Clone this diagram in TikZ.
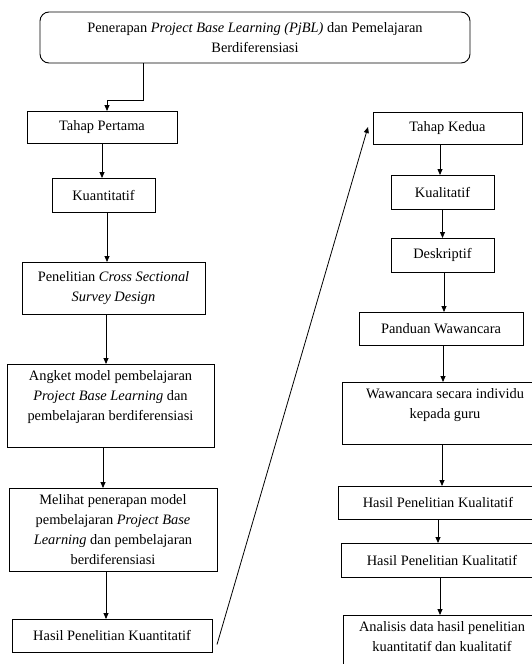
\documentclass[tikz,border=0pt]{standalone}
\usepackage{fontspec}
\setmainfont{Liberation Serif}
\usepackage{tikz}
\usetikzlibrary{arrows.meta, positioning, calc}

\begin{document}
\begin{tikzpicture}[
  x=1pt, y=1pt,
  box/.style = {draw, line width=0.9pt, outer sep=0pt, inner sep=2pt, align=center,
                font=\fontsize{14.4}{20}\selectfont},
  roundbox/.style = {box, rounded corners=9pt},
  arrow/.style = {line width=0.8pt, -{Triangle[width=5pt, length=6pt]}}
]
  \fill[white] (0,0) rectangle (531,-664);
  \useasboundingbox (0,0) rectangle (531,-664);

  % ======================================================
  % Judul (rounded block)
  % ======================================================
  \node[roundbox, minimum width=430pt, minimum height=51pt] (judul) at (255,-37.5) {
    Penerapan \textit{Project Base Learning (PjBL)} dan Pemelajaran\\
    Berdiferensiasi
  };

  % ======================================================
  % Tahap pertama (left column)
  % ======================================================
  \node[box, minimum width=150pt, minimum height=32pt] (pertama) at (102,-127) {Tahap Pertama};

  \node[box, minimum width=103pt, minimum height=34pt, below=35pt of pertama, xshift=1.5pt] (kuanti) {Kuantitatif};

  \node[box, minimum width=183pt, minimum height=52pt, below=50pt of kuanti, xshift=10pt] (survey) {
    Penelitian \textit{Cross Sectional}\\
    \textit{Survey Design}
  };

  \node[box, minimum width=207pt, minimum height=83pt, below=50pt of survey, xshift=-3pt] (angket) {
    Angket model pembelajaran\\
    \textit{Project Base Learning} dan\\
    pembelajaran berdiferensiasi\\
    ~
  };

  \node[box, minimum width=208pt, minimum height=83pt, below=41pt of angket, xshift=2.5pt] (melihat) {
    Melihat penerapan model\\
    pembelajaran \textit{Project Base}\\
    \textit{Learning} dan pembelajaran\\
    berdiferensiasi
  };

  \node[box, minimum width=200pt, minimum height=33pt, below=48pt of melihat, xshift=-1pt] (hasilkuanti) {Hasil Penelitian Kuantitatif};

  % ======================================================
  % Tahap kedua (right column)
  % ======================================================
  \node[box, minimum width=149pt, minimum height=32pt] (kedua) at (447.5,-128) {Tahap Kedua};

  \node[box, minimum width=103pt, minimum height=34pt, below=31pt of kedua, xshift=-5pt] (kuali) {Kualitatif};

  \node[box, minimum width=103pt, minimum height=34pt, below=29pt of kuali] (deskriptif) {Deskriptif};

  \node[box, minimum width=164pt, minimum height=33pt, below=40pt of deskriptif, xshift=-1.5pt] (panduan) {Panduan Wawancara};

  \node[box, minimum width=206pt, minimum height=62pt, below=37pt of panduan, xshift=4pt] (wawancara) {
    Wawancara secara individu\\
    kepada guru\\
    ~
  };

  \node[box, minimum width=200pt, minimum height=33pt, below=42pt of wawancara, xshift=-7pt] (hasilkuali) {Hasil Penelitian Kualitatif};

  \node[box, minimum width=202pt, minimum height=34pt, below=24pt of hasilkuali, xshift=4pt] (hasilkuali2) {Hasil Penelitian Kualitatif};

  \node[box, minimum width=198pt, minimum height=83pt, below=38pt of hasilkuali2] (analisis) {
    Analisis data hasil penelitian\\
    kuantitatif dan kualitatif\\
    ~\\
    ~
  };

  % judul -> tahap pertama
  \draw[arrow] ([xshift=-112pt]judul.south) -- ++(0,-37) -| ([xshift=5pt]pertama.north);

  % left column
  \draw[arrow] (pertama.south) -- (pertama.south |- kuanti.north);
  \draw[arrow] ([xshift=3.5pt]kuanti.south) -- ([xshift=3.5pt]kuanti.south |- survey.north);
  \draw[arrow] ([xshift=-7.5pt]survey.south) -- ([xshift=-7.5pt]survey.south |- angket.north);
  \draw[arrow] ([xshift=-7.5pt]angket.south) -- ([xshift=-7.5pt]angket.south |- melihat.north);
  \draw[arrow] ([xshift=-7pt]melihat.south) -- ([xshift=-7pt]melihat.south |- hasilkuanti.north);

  % hasil kuantitatif -> tahap kedua
  \draw[arrow] ([xshift=5pt, yshift=-9pt]hasilkuanti.east) -- ([xshift=-5pt, yshift=1pt]kedua.west);

  % right column
  \draw[arrow] ([xshift=-7.5pt]kedua.south) -- ([xshift=-7.5pt]kedua.south |- kuali.north);
  \draw[arrow] (kuali.south) -- (kuali.south |- deskriptif.north);
  \draw[arrow] ([xshift=1.5pt]deskriptif.south) -- ([xshift=1.5pt]deskriptif.south |- panduan.north);
  \draw[arrow] ([xshift=2pt]panduan.south) -- ([xshift=2pt]panduan.south |- wawancara.north);
  \draw[arrow] ([xshift=-3pt]wawancara.south) -- ([xshift=-3pt]wawancara.south |- hasilkuali.north);
  \draw[arrow] (hasilkuali.south) -- (hasilkuali.south |- hasilkuali2.north);
  \draw[arrow] ([xshift=-2pt]hasilkuali2.south) -- ([xshift=-2pt]hasilkuali2.south |- analisis.north);

\end{tikzpicture}
\end{document}
